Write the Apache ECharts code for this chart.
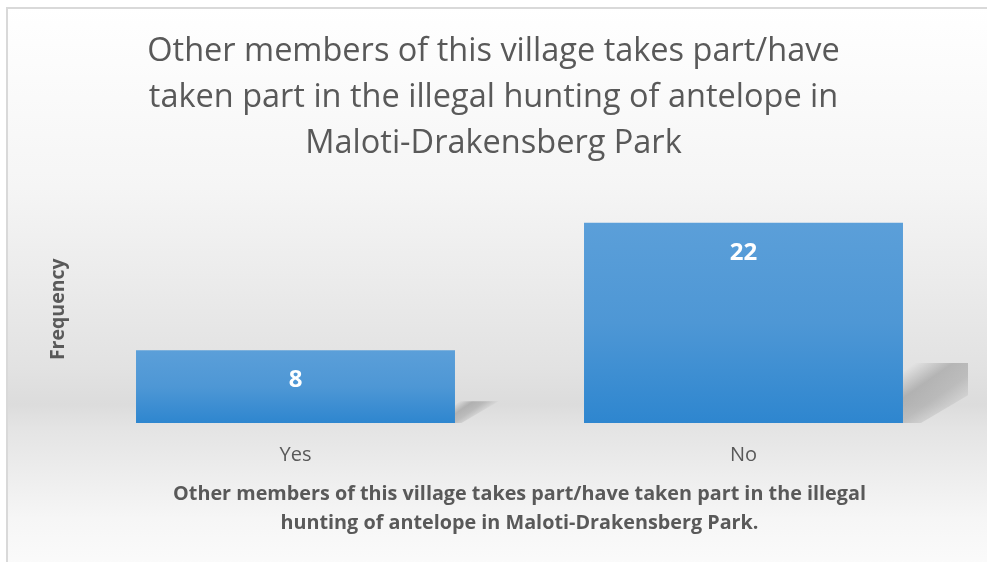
<!DOCTYPE html>
<html>
<head>
<meta charset="utf-8">
<style>html,body{margin:0;padding:0;background:#fff}#c{width:987px;height:562px}</style>
<script src="https://cdn.jsdelivr.net/npm/echarts@6/dist/echarts.min.js"></script>
</head>
<body>
<div id="c"></div>
<script>
const categories = ['Yes', 'No'];
const frequency = [8, 22];
const chartTitle = 'Other members of this village takes part/have\ntaken part in the illegal hunting of antelope in\nMaloti-Drakensberg Park';
const xAxisTitle = 'Other members of this village takes part/have taken part in the illegal\nhunting of antelope in Maloti-Drakensberg Park.';
const yAxisTitle = 'Frequency';

const FONT = '"Open Sans", "Noto Sans", sans-serif';
const chart = echarts.init(document.getElementById('c'), null, {renderer: 'canvas'});

const option = {
  animation: false,
  backgroundColor: '#ffffff',
  graphic: [{
    type: 'rect', z: -10, silent: true,
    shape: {x: 7, y: 8, width: 1000, height: 600},
    style: {
      stroke: '#d9d9d9', lineWidth: 2,
      fill: new echarts.graphic.LinearGradient(0, 0, 0, 1, [
        {offset: 0, color: '#ffffff'},
        {offset: 0.3, color: '#f5f5f5'},
        {offset: 0.6, color: '#e2e2e2'},
        {offset: 0.66, color: '#dcdcdc'},
        {offset: 0.7, color: '#e4e4e4'},
        {offset: 0.85, color: '#f6f6f6'},
        {offset: 1, color: '#ffffff'}
      ])
    }
  }],
  title: {
    text: chartTitle,
    left: 'center',
    top: 24,
    textStyle: {fontFamily: FONT, fontSize: 32.5, fontWeight: 'normal', color: '#595959', lineHeight: 46}
  },
  grid: {left: 71.5, right: 19.5, top: 195.5, bottom: 139, containLabel: false},
  xAxis: {
    type: 'category',
    data: categories,
    axisLine: {show: false},
    axisTick: {show: false},
    axisLabel: {fontFamily: FONT, fontSize: 20, color: '#595959', margin: 22},
    name: xAxisTitle,
    nameLocation: 'middle',
    nameGap: 57,
    nameTextStyle: {fontFamily: FONT, fontSize: 19.8, fontWeight: 'bold', color: '#595959', lineHeight: 29}
  },
  yAxis: {
    type: 'value',
    min: 0, max: 25,
    axisLine: {show: false},
    axisTick: {show: false},
    axisLabel: {show: false},
    splitLine: {show: false},
    name: yAxisTitle,
    nameLocation: 'middle',
    nameGap: 3,
    nameTextStyle: {fontFamily: FONT, fontSize: 19.5, fontWeight: 'bold', color: '#595959'}
  },
  series: [{
    type: 'custom',
    clip: true,
    z: 1,
    silent: true,
    data: frequency.map((v, i) => [i, v]),
    renderItem: function (params, api) {
      const base = api.coord([api.value(0), 0]);
      const top = api.coord([api.value(0), api.value(1)]);
      const w = api.size([1, 0])[0] * 0.712;
      const x0 = base[0] + w / 2;
      const h = (base[1] - top[1]) * 0.3;
      return {
        type: 'polygon',
        shape: {points: [[x0, base[1]], [x0, base[1] - h], [x0 + h * 2, base[1] - h], [x0 + h * 0.3, base[1]]]},
        style: {
          fill: new echarts.graphic.LinearGradient(0.1, 0, 0.45, 1, [
            {offset: 0, color: 'rgba(0,0,0,0)'},
            {offset: 0.3, color: 'rgba(0,0,0,0.2)'},
            {offset: 0.55, color: 'rgba(0,0,0,0.16)'},
            {offset: 0.85, color: 'rgba(0,0,0,0.02)'},
            {offset: 1, color: 'rgba(0,0,0,0)'}
          ])
        }
      };
    }
  }, {
    type: 'bar',
    z: 2,
    data: frequency,
    barWidth: '71.2%',
    itemStyle: {
      color: new echarts.graphic.LinearGradient(0, 0, 0, 1, [
        {offset: 0, color: '#5b9fd9'},
        {offset: 0.5, color: '#4e97d5'},
        {offset: 1, color: '#2e86cf'}
      ])
    },
    label: {
      show: true,
      position: 'insideTop',
      distance: 18,
      fontFamily: FONT, fontSize: 24, fontWeight: 'bold', color: '#ffffff'
    }
  }]
};
chart.setOption(option);
</script>
</body>
</html>
